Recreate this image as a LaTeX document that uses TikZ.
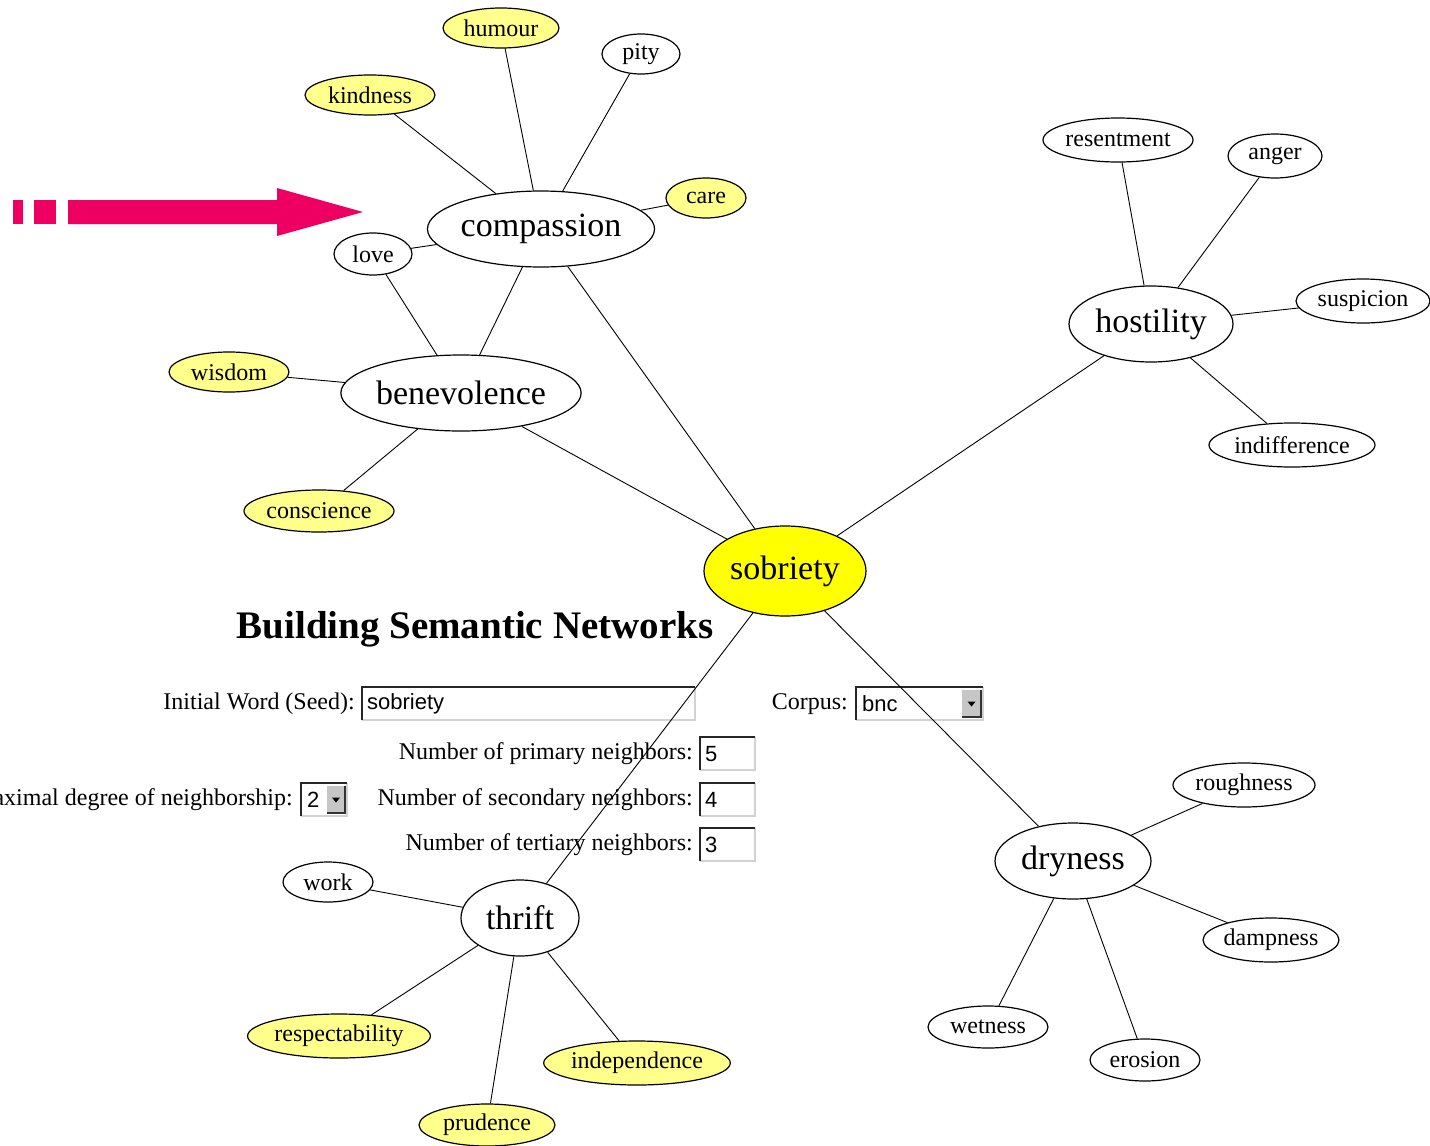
\documentclass[tikz,border=0pt]{standalone}
\usepackage{fontspec}
\setmainfont{Liberation Serif}
\newfontfamily\formsans{Liberation Sans}
\usetikzlibrary{shapes.geometric}

\definecolor{seedyellow}{RGB}{255,255,0}
\definecolor{paleyellow}{RGB}{255,255,140}
\definecolor{arrowpink}{RGB}{238,0,98}

% styles
\tikzset{
  word/.style={ellipse,draw,line width=1.2pt,inner sep=0pt,font=\fontsize{24}{26}\selectfont},
  hub/.style={word,font=\fontsize{34}{36}\selectfont},
  hl/.style={fill=paleyellow},
  sz/.style 2 args={minimum width=#1,minimum height=#2},
  link/.style={line width=0.9pt},
  lbl/.style={anchor=east,inner sep=0pt,font=\fontsize{24}{26}\selectfont},
  val/.style={anchor=west,inner sep=0pt,font=\formsans\fontsize{22}{24}\selectfont},
}

% sunken input field: x1 y1 x2 y2
\newcommand{\fieldbox}[4]{%
  \fill[white] (#1,#2) rectangle (#3,#4);
  \draw[gray!35,line width=1.2pt] (#1,#4) -- (#3,#4) -- (#3,#2);
  \draw[black!85,line width=2.4pt] (#1,#4) -- (#1,#2) -- (#3,#2);}
% drop-down button: x1 y1 x2 y2
\newcommand{\dropbtn}[4]{%
  \fill[gray!45] (#1,#2) rectangle (#3,#4);
  \draw[black!80,line width=1.6pt] (#1,#4) -- (#3,#4) -- (#3,#2);
  \fill[black] ($(#1,#2)!0.5!(#3,#4)+(-4,-2)$) -- ++(8,0) -- ++(-4,5) -- cycle;}

\usetikzlibrary{calc}

\begin{document}
\begin{tikzpicture}[x=1pt,y=-1pt]
\clip (0,0) rectangle (1430,1146);
\fill[white] (0,0) rectangle (1430,1146);

% ----- pointer arrow -----
\fill[arrowpink] (13,200) rectangle (23,224);
\fill[arrowpink] (34,200) rectangle (56,224);
\fill[arrowpink] (68,200) -- (277,200) -- (277,188) -- (363,212)
  -- (277,236) -- (277,224) -- (68,224) -- cycle;

% ----- title & form -----
\node[font=\bfseries\fontsize{39}{42}\selectfont] (title) at (475,629) {Building Semantic Networks};

\node[lbl] (seedlbl) at (355,704) {Initial Word (Seed):};
\fieldbox{362}{687}{695}{720}
\node[val] (seedval) at (367,704) {sobriety};

\node[lbl] (corpuslbl) at (848,704) {Corpus:};
\fieldbox{856}{687}{983}{720}
\dropbtn{962}{690}{981}{717}
\node[val] (corpusval) at (862,704) {bnc};

\node[lbl] (primlbl) at (693,754) {Number of primary neighbors:};
\fieldbox{700}{737}{755}{770}
\node[val] (primval) at (705,754) {5};

\node[lbl] (deglbl) at (293,800) {Maximal degree of neighborship:};
\fieldbox{301}{783}{347}{816}
\dropbtn{327}{786}{345}{813}
\node[val] (degval) at (307,800) {2};

\node[lbl] (seclbl) at (693,800) {Number of secondary neighbors:};
\fieldbox{700}{783}{755}{816}
\node[val] (secval) at (705,800) {4};

\node[lbl] (terlbl) at (693,845) {Number of tertiary neighbors:};
\fieldbox{700}{828}{755}{861}
\node[val] (terval) at (705,845) {3};

% ----- main words -----
\node[hub,fill=seedyellow,sz={162}{90}] (sobriety) at (785,571) {sobriety};
\node[hub,fill=white,sz={214}{76}] (compassion) at (541,229) {compassion};
\node[hub,fill=white,sz={224}{76}] (benevolence) at (461,393) {benevolence};
\node[hub,fill=white,sz={164}{76}] (hostility) at (1151,324) {hostility};
\node[hub,fill=white,sz={156}{76}] (dryness) at (1073,861) {dryness};
\node[hub,fill=white,sz={118}{76}] (thrift) at (520,918) {thrift};

% ----- neighbours -----
\node[word,hl,sz={116}{40}] (humour) at (501,28) {humour};
\node[word,sz={78}{40}] (pity) at (641,54) {pity};
\node[word,hl,sz={130}{40}] (kindness) at (370,95) {kindness};
\node[word,hl,sz={80}{40}] (care) at (706,198) {care};
\node[word,sz={78}{42}] (love) at (373,254) {love};
\node[word,hl,sz={120}{40}] (wisdom) at (229,372) {wisdom};
\node[word,hl,sz={150}{42}] (conscience) at (319,511) {conscience};

\node[word,sz={150}{44}] (resentment) at (1118,140) {resentment};
\node[word,sz={94}{44}] (anger) at (1275,156) {anger};
\node[word,sz={134}{44}] (suspicion) at (1363,301) {suspicion};
\node[word,sz={166}{44}] (indifference) at (1292,445) {indifference};

\node[word,sz={142}{44}] (roughness) at (1244,785) {roughness};
\node[word,sz={136}{44}] (dampness) at (1271,940) {dampness};
\node[word,sz={120}{42}] (wetness) at (988,1027) {wetness};
\node[word,sz={110}{42}] (erosion) at (1145,1060) {erosion};

\node[word,sz={90}{40}] (work) at (328,882) {work};
\node[word,hl,sz={176}{44}] (respectability) at (339,1036) {respectability};
\node[word,hl,sz={182}{44}] (independence) at (637,1063) {independence};
\node[word,hl,sz={136}{42}] (prudence) at (487,1125) {prudence};

% ----- links -----
\foreach \a/\b in {sobriety/compassion,sobriety/benevolence,sobriety/hostility,
    sobriety/dryness,sobriety/thrift,
    compassion/humour,compassion/pity,compassion/kindness,compassion/care,
    compassion/love,compassion/benevolence,
    benevolence/love,benevolence/wisdom,benevolence/conscience,
    hostility/resentment,hostility/anger,hostility/suspicion,hostility/indifference,
    dryness/roughness,dryness/dampness,dryness/wetness,dryness/erosion,
    thrift/work,thrift/respectability,thrift/independence,thrift/prudence}
  \draw[link] (\a) -- (\b);
\end{tikzpicture}
\end{document}
